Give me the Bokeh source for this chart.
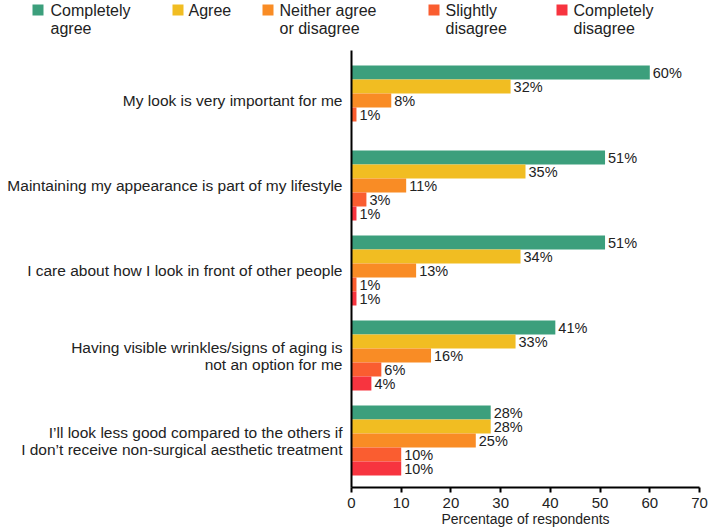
from bokeh.plotting import figure
from bokeh.models import Range1d, FixedTicker, ColumnDataSource
from bokeh.layouts import column, row
from bokeh.core.properties import value
from bokeh.embed import file_html
from bokeh.resources import INLINE

questions = [
    "My look is very important for me",
    "Maintaining my appearance is part of my lifestyle",
    "I care about how I look in front of other people",
    "Having visible wrinkles/signs of aging is\nnot an option for me",
    "I\u2019ll look less good compared to the others if\nI don\u2019t receive non-surgical aesthetic treatment",
]
responses = ["Completely\nagree", "Agree", "Neither agree\nor disagree", "Slightly\ndisagree", "Completely\ndisagree"]
colors = ["#3c9f7c", "#f1bd22", "#f98c25", "#fa5d30", "#f7343f"]

completely_agree = [60, 51, 51, 41, 28]
agree = [32, 35, 34, 33, 28]
neither = [8, 11, 13, 16, 25]
slightly_disagree = [1, 3, 1, 6, 10]
completely_disagree = [0, 1, 1, 4, 10]
series = [completely_agree, agree, neither, slightly_disagree, completely_disagree]

x_ticks = [0, 10, 20, 30, 40, 50, 60, 70]

FONT = "Liberation Sans"
W = 709
LEG_H = 50
BAR_H = 14 / 85.0

# ---------- legend strip ----------
leg = figure(width=W, height=LEG_H, x_range=Range1d(0, W), y_range=Range1d(LEG_H, 0),
             toolbar_location=None, output_backend="svg", min_border=0,
             min_border_left=0, min_border_right=0, min_border_top=0, min_border_bottom=0)
leg.axis.visible = False
leg.grid.visible = False
leg.outline_line_color = None
sq_x = [32, 172, 262, 428, 556]
txt_x = [50, 188, 279, 445, 573]
leg.rect(x=[v + 5.5 for v in sq_x], y=[9.5] * 5, width=11, height=11, fill_color=colors, line_color=None)
leg.text(x=txt_x, y=[1] * 5, text=responses, text_font=value(FONT), text_font_size="16px",
         text_color="#222222", text_baseline="top", text_align="left", text_line_height=1.08)

# ---------- main chart ----------
p = figure(width=W, height=530 - LEG_H, x_range=Range1d(0, 70),
           y_range=Range1d(4 + 47 / 85.0, -50 / 85.0),
           toolbar_location=None, output_backend="svg",
           min_border_left=351, min_border_right=10, min_border_top=0, min_border_bottom=43)
p.grid.visible = False
p.outline_line_color = None

lab_x, lab_y, lab_t = [], [], []
for j, vals in enumerate(series):
    ys = [k + (j - 2) * BAR_H for k in range(len(questions))]
    src = ColumnDataSource(dict(y=ys, right=vals))
    p.hbar(y="y", left=0, right="right", height=BAR_H, source=src,
           fill_color=colors[j], line_color=None)
    for k, v in enumerate(vals):
        if v > 0:
            lab_x.append(v)
            lab_y.append(ys[k])
            lab_t.append(f"{v}%")
p.text(x=lab_x, y=lab_y, text=lab_t, x_offset=3, text_font=value(FONT), text_font_size="14.5px",
       text_color="#222222", text_baseline="middle", text_align="left")

# x axis
p.xaxis.ticker = FixedTicker(ticks=x_ticks)
p.xaxis.axis_label = "Percentage of respondents"
p.xaxis.axis_label_text_font = FONT
p.xaxis.axis_label_text_font_style = "normal"
p.xaxis.axis_label_text_font_size = "14px"
p.xaxis.axis_label_text_color = "#222222"
p.xaxis.axis_label_standoff = 0
p.xaxis.major_label_text_font = FONT
p.xaxis.major_label_text_font_size = "15px"
p.xaxis.major_label_text_color = "#222222"
p.xaxis.major_label_standoff = 5
p.xaxis.axis_line_color = "black"
p.xaxis.axis_line_width = 2
p.xaxis.major_tick_line_color = "black"
p.xaxis.major_tick_line_width = 2
p.xaxis.major_tick_out = 5
p.xaxis.major_tick_in = 0
p.xaxis.minor_tick_line_color = None

# y axis with question labels
p.yaxis.ticker = FixedTicker(ticks=list(range(len(questions))))
p.yaxis.major_label_overrides = {i: q for i, q in enumerate(questions)}
p.yaxis.major_label_text_font = FONT
p.yaxis.major_label_text_font_size = "15.5px"
p.yaxis.major_label_text_color = "#222222"
p.yaxis.major_label_text_align = "right"
p.yaxis.major_label_text_line_height = 1.0
p.yaxis.major_label_standoff = 9
p.yaxis.major_tick_out = 0
p.yaxis.major_tick_in = 0
p.yaxis.axis_line_color = "black"
p.yaxis.axis_line_width = 2
p.yaxis.major_tick_line_color = None
p.yaxis.minor_tick_line_color = None

layout = column(row(leg), p, spacing=0)
open("out.html", "w").write(file_html(layout, INLINE))
